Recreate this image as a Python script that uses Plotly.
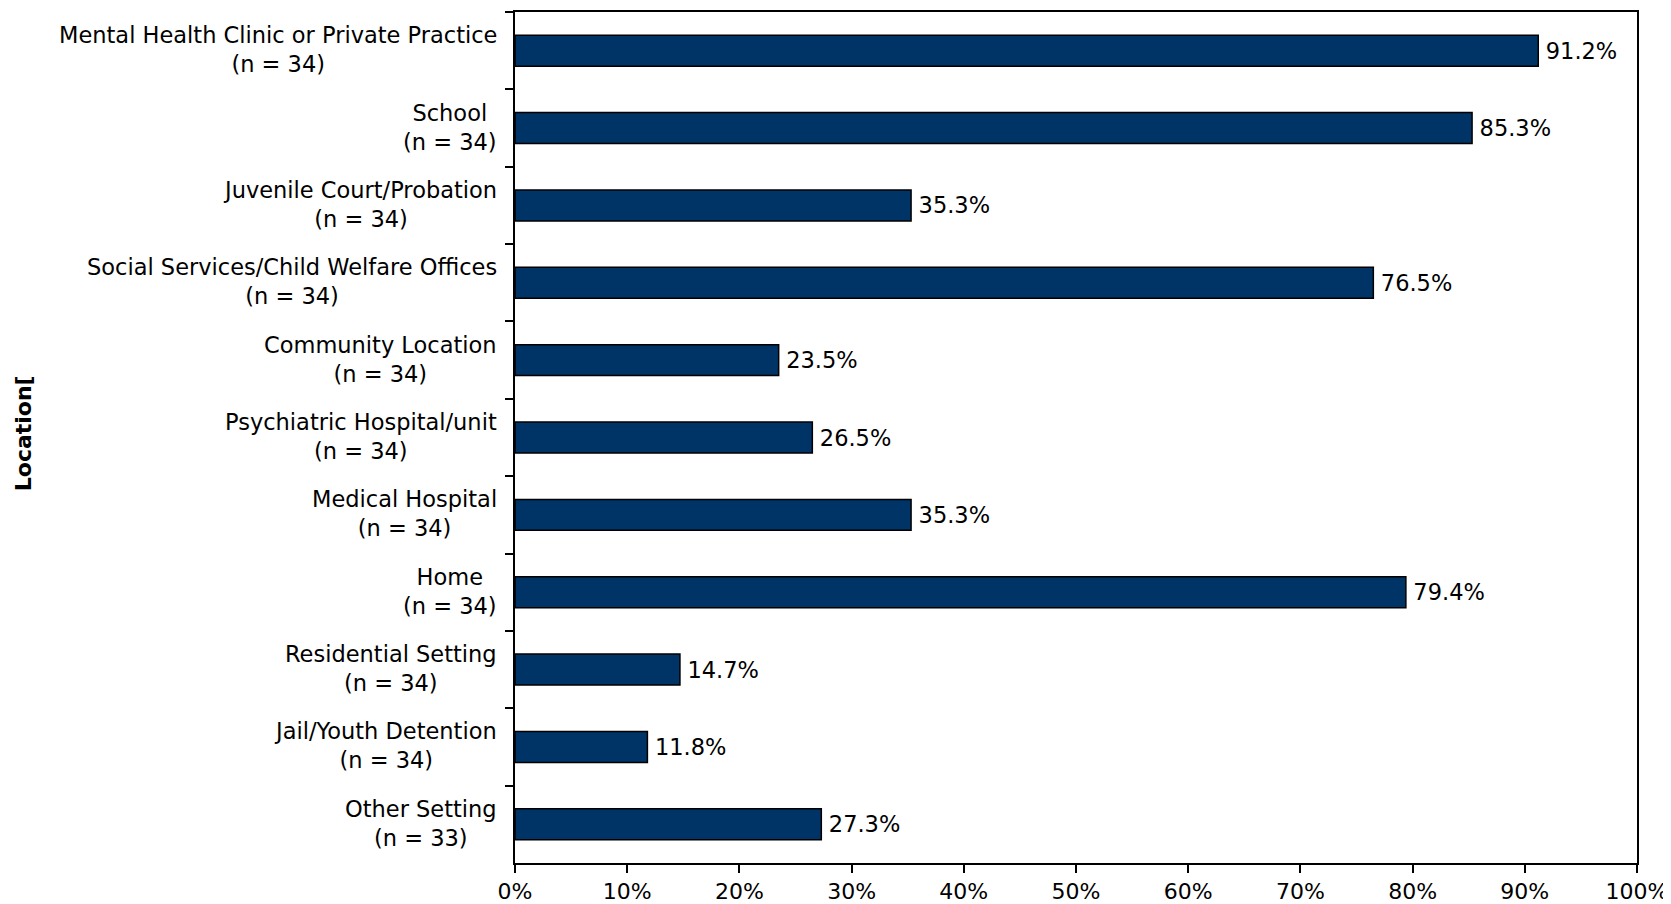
import plotly.graph_objects as go

categories = [
    "Mental Health Clinic or Private Practice",
    "School",
    "Juvenile Court/Probation",
    "Social Services/Child Welfare Offices",
    "Community Location",
    "Psychiatric Hospital/unit",
    "Medical Hospital",
    "Home",
    "Residential Setting",
    "Jail/Youth Detention",
    "Other Setting",
]
n_values = [34, 34, 34, 34, 34, 34, 34, 34, 34, 34, 33]
percents = [91.2, 85.3, 35.3, 76.5, 23.5, 26.5, 35.3, 79.4, 14.7, 11.8, 27.3]
x_ticks = [0, 10, 20, 30, 40, 50, 60, 70, 80, 90, 100]
y_title = "Location["

FONT = "DejaVu Sans, Verdana, sans-serif"
BAR_COLOR = "#003366"

fig = go.Figure()
fig.add_trace(go.Bar(
    x=percents,
    y=categories,
    orientation="h",
    width=0.4,
    marker=dict(color=BAR_COLOR, line=dict(color="black", width=1.5)),
    text=[f"\u2009{v:.1f}%" for v in percents],
    textposition="outside",
    cliponaxis=False,
    textfont=dict(family=FONT, size=22.5, color="black"),
    hoverinfo="skip",
))

annotations = []
for cat, n in zip(categories, n_values):
    annotations.append(dict(
        x=0, xref="paper", y=cat, yref="y",
        text=f"{cat}<br>(n = {n})",
        xanchor="right", yanchor="middle", align="center",
        xshift=-16, yshift=1, showarrow=False,
        font=dict(family=FONT, size=22.5, color="black"),
    ))
annotations.append(dict(
    x=-0.4385, xref="paper", y=0.505, yref="paper",
    text=f"<b>{y_title}</b>", textangle=-90,
    xanchor="center", yanchor="middle", showarrow=False,
    font=dict(family=FONT, size=22, color="black"),
))

fig.update_layout(
    width=1663, height=896,
    margin=dict(l=507, r=34, t=4, b=41),
    paper_bgcolor="white", plot_bgcolor="white",
    showlegend=False,
    font=dict(family=FONT, size=22, color="black"),
    annotations=annotations,
    bargap=0.6,
)
fig.update_xaxes(
    range=[0, 100], tickvals=x_ticks, ticktext=[f"{t}%" for t in x_ticks],
    ticks="outside", ticklen=8, tickwidth=2, tickcolor="black",
    showline=True, linecolor="black", linewidth=2, mirror=True,
    showgrid=False, zeroline=False, automargin=False,
    tickfont=dict(family=FONT, size=22, color="black"),
)
fig.update_yaxes(
    autorange="reversed", tickson="boundaries",
    ticks="outside", ticklen=8, tickwidth=2, tickcolor="black",
    showticklabels=False, automargin=False,
    showline=True, linecolor="black", linewidth=2, mirror=True,
    showgrid=False, zeroline=False,
)

fig.write_html("out.html")
